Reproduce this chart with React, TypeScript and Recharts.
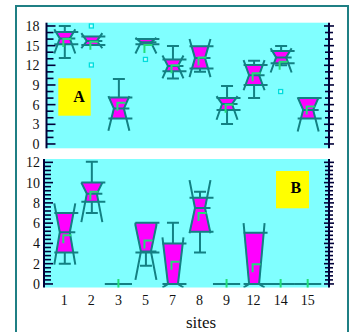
import React from "react";
import { ComposedChart, Bar, Scatter, XAxis, YAxis, CartesianGrid } from "recharts";

const sites = ["1", "2", "3", "5", "7", "8", "9", "12", "14", "15"];

// Panel A values
const aWhiskerLow = [13.1, 15.1, 3.9, 15.2, 10.0, 11.0, 3.05, 7.0, 12.0, 3.9];
const aNotchLow = [13.8, 14.6, 2.0, 13.8, 10.0, 10.2, 3.7, 8.2, 10.9, 1.9];
const aQ1 = [15.2, 15.1, 3.9, 15.2, 11.1, 11.5, 5.2, 9.0, 12.3, 3.9];
const aMedian = [16.1, 15.7, 5.4, 15.5, 11.9, 13.1, 6.1, 10.5, 13.2, 5.2];
const aQ3 = [17.1, 16.4, 7.1, 16.0, 12.9, 14.9, 7.0, 12.05, 14.2, 7.0];
const aNotchHigh = [17.5, 16.9, 7.3, 16.2, 13.5, 16.0, 7.3, 12.8, 14.6, 7.1];
const aWhiskerHigh = [18.0, 16.4, 9.9, 16.0, 14.95, 14.9, 8.85, 12.7, 14.95, 7.0];
const aMean = [16.0, 15.6, 6.3, 15.1, 12.0, 13.2, 6.0, 10.8, 12.55, 5.7];
const aOutlier1 = [null, 18.0, null, 12.9, null, null, null, null, 8.0, null];
const aOutlier2 = [null, 12.05, null, null, null, null, null, null, null, null];

// Panel B values
const bWhiskerLow = [2.0, 7.0, 0, 1.8, 0, 3.1, 0, 0, 0, 0];
const bNotchLow = [1.9, 6.1, 0, 0.4, -0.35, 5.0, 0, -0.35, 0, 0];
const bQ1 = [3.1, 8.1, 0, 3.1, 0, 5.15, 0, 0, 0, 0];
const bMedian = [5.1, 8.9, 0, 3.2, 0, 7.5, 0, 0, 0, 0];
const bQ3 = [7.0, 10.0, 0, 6.05, 4.0, 8.5, 0, 5.05, 0, 0];
const bNotchHigh = [7.95, 10.0, 0, 5.8, 4.6, 10.25, 0, 6.0, 0, 0];
const bWhiskerHigh = [7.0, 12.05, 0, 6.05, 6.05, 9.1, 0, 5.05, 0, 0];
const bMean = [4.8, 9.1, 0, 4.3, 2.2, 7.0, 0, 1.95, 0, 0];
const bOutlier1 = [null, null, null, null, null, null, null, null, null, null];
const bOutlier2 = [null, null, null, null, null, null, null, null, null, null];

const aTicks = Array.from({ length: 19 }, (_, i) => i);
const aGrid = [0, 3, 6, 9, 12, 15, 18];
const bTicks = Array.from({ length: 31 }, (_, i) => Math.round(i * 4) / 10);
const bGrid = [0, 2, 4, 6, 8, 10, 12];

const TEAL = "#138083";
const MAGENTA = "#ff00ff";
const GREEN = "#22dd77";
const CYAN_BG = "#80ffff";
const AXIS = "#000038";
const GRID = "#8e8e8e";
const HW = 10.5;
const NW = 5;

function buildRows(wLo: number[], nLo: number[], q1: number[], med: number[], q3: number[], nHi: number[], wHi: number[], mean: number[], o1: (number | null)[], o2: (number | null)[]) {
  return sites.map((site, i) => {
    const vals = [wLo[i], nLo[i], q1[i], med[i], q3[i], nHi[i], wHi[i]];
    const lo = Math.min(...vals);
    const hi = Math.max(...vals);
    const flat = hi === lo;
    return {
      site,
      wLo: wLo[i], nLo: nLo[i], q1: q1[i], med: med[i], q3: q3[i], nHi: nHi[i], wHi: wHi[i],
      mean: mean[i],
      out1: o1[i],
      out2: o2[i],
      flat,
      span: flat ? null : [lo, hi],
    };
  });
}

const rowsA = buildRows(aWhiskerLow, aNotchLow, aQ1, aMedian, aQ3, aNotchHigh, aWhiskerHigh, aMean, aOutlier1, aOutlier2);
const rowsB = buildRows(bWhiskerLow, bNotchLow, bQ1, bMedian, bQ3, bNotchHigh, bWhiskerHigh, bMean, bOutlier1, bOutlier2);

const BoxShape = (props: any) => {
  const { x, y, width, height, payload } = props;
  if (!payload || payload.flat || !payload.span) return <g />;
  const [lo, hi] = payload.span;
  const top = Math.min(y, y + height);
  const bot = Math.max(y, y + height);
  const py = (v: number) => bot - ((v - lo) / (hi - lo)) * (bot - top);
  const cx = x + width / 2;
  const { wLo, nLo, q1, med, q3, nHi, wHi } = payload;
  const hw = (v: number) => {
    if (v >= med) {
      if (nHi <= med) return HW;
      const t = Math.min(1, (v - med) / (nHi - med));
      return NW + (HW - NW) * t;
    }
    if (nLo >= med) return HW;
    const t = Math.min(1, (med - v) / (med - nLo));
    return NW + (HW - NW) * t;
  };
  const levels = Array.from(new Set([q3, nHi, med, nLo, q1].filter((v) => v <= q3 && v >= q1))).sort((a, b) => b - a);
  const left = levels.map((v) => `${cx - hw(v)},${py(v)}`);
  const right = levels.slice().reverse().map((v) => `${cx + hw(v)},${py(v)}`);
  const fillPts = [...left, ...right].join(" ");
  const side = (s: number) => {
    const pts: [number, number][] = [];
    if (nHi < q3) {
      pts.push([HW, q3]);
      pts.push([HW, nHi]);
    } else pts.push([HW, nHi]);
    pts.push([NW, med]);
    if (nLo > q1) {
      pts.push([HW, nLo]);
      pts.push([HW, q1]);
    } else pts.push([HW, nLo]);
    return pts.map(([w, v]) => `${cx + s * w},${py(v)}`).join(" ");
  };
  return (
    <g>
      <polygon points={fillPts} fill={MAGENTA} stroke="#8040c0" strokeWidth={0.6} />
      {wHi > q3 && <line x1={cx} x2={cx} y1={py(q3)} y2={py(wHi)} stroke={TEAL} strokeWidth={2} />}
      {wHi > q3 && <line x1={cx - 6} x2={cx + 6} y1={py(wHi)} y2={py(wHi)} stroke={TEAL} strokeWidth={2} />}
      {wLo < q1 && <line x1={cx} x2={cx} y1={py(q1)} y2={py(wLo)} stroke={TEAL} strokeWidth={2} />}
      {wLo < q1 && <line x1={cx - 6} x2={cx + 6} y1={py(wLo)} y2={py(wLo)} stroke={TEAL} strokeWidth={2} />}
      <polyline points={side(-1)} fill="none" stroke={TEAL} strokeWidth={2} />
      <polyline points={side(1)} fill="none" stroke={TEAL} strokeWidth={2} />
      <line x1={cx - HW} x2={cx + HW + 3} y1={py(q3)} y2={py(q3)} stroke={TEAL} strokeWidth={2} />
      <line x1={cx - HW} x2={cx + HW + 3} y1={py(q1)} y2={py(q1)} stroke={TEAL} strokeWidth={2} />
      <line x1={cx - NW} x2={cx + HW} y1={py(med)} y2={py(med)} stroke={TEAL} strokeWidth={2} />
    </g>
  );
};

const MeanShape = (props: any) => {
  const { cx, cy, payload } = props;
  if (!payload || cx == null || cy == null || isNaN(cy)) return <g />;
  if (payload.flat) {
    return (
      <g>
        <line x1={cx - 13.6} x2={cx + 13.6} y1={cy} y2={cy} stroke={TEAL} strokeWidth={2} />
        <line x1={cx} x2={cx} y1={cy - 5} y2={cy + 5} stroke={GREEN} strokeWidth={2} />
      </g>
    );
  }
  return <path d={`M${cx - 1},${cy + 8} L${cx - 1},${cy} L${cx + 7},${cy}`} fill="none" stroke={GREEN} strokeWidth={2} />;
};

const makeOutlier = (key: string) => (props: any) => {
  const { cx, cy, payload } = props;
  if (!payload || payload[key] == null || cy == null || isNaN(cy)) return <g />;
  return <rect x={cx - 2} y={cy - 2} width={4} height={4} fill="#c0ffff" stroke="#00dddd" strokeWidth={1.3} />;
};

const isMajor = (v: number, step: number) => Math.abs(v / step - Math.round(v / step)) < 1e-6;

const leftTick = (step: number, gap: number) => (props: any) => {
  const { x, y, payload } = props;
  const v = payload.value;
  const major = isMajor(v, step);
  return (
    <g>
      <line x1={x} x2={x + (major ? 9 : 7)} y1={y} y2={y} stroke={AXIS} strokeWidth={1.6} />
      {major && (
        <text x={x - gap} y={y} dy="0.35em" textAnchor="end" fontFamily="'Liberation Serif', serif" fontSize={14} fill="#111">
          {v}
        </text>
      )}
    </g>
  );
};

const rightTick = (step: number) => (props: any) => {
  const { x, y, payload } = props;
  const major = isMajor(payload.value, step);
  const l = major ? 5 : 4;
  return <line x1={x - l} x2={x + l} y1={y} y2={y} stroke={AXIS} strokeWidth={1.6} />;
};

function Panel({ rows, width, height, marginTop, marginBottom, leftW, padLeft, domain, ticks, grid, step, gap, showX }: any) {
  return (
    <ComposedChart width={width} height={height} data={rows} margin={{ top: marginTop, right: 0, bottom: marginBottom, left: 0 }}>
      <CartesianGrid fill={CYAN_BG} vertical={false} horizontalValues={grid} stroke={GRID} strokeWidth={1.8} />
      <XAxis
        dataKey="site"
        type="category"
        padding={{ left: padLeft, right: 7.8 }}
        hide={!showX}
        height={showX ? 44.5 : 0}
        axisLine={false}
        tickLine={false}
        interval={0}
        tick={{ fontFamily: "'Liberation Serif', serif", fontSize: 14, fill: "#111" }}
      />
      <YAxis
        yAxisId="l"
        width={leftW}
        domain={domain}
        allowDataOverflow
        ticks={ticks}
        interval={0}
        tickSize={0}
        tickMargin={0}
        tickLine={false}
        axisLine={{ stroke: AXIS, strokeWidth: 2 }}
        tick={leftTick(step, gap)}
      />
      <YAxis
        yAxisId="r"
        orientation="right"
        width={27}
        domain={domain}
        allowDataOverflow
        ticks={ticks}
        interval={0}
        tickSize={0}
        tickMargin={0}
        tickLine={false}
        axisLine={{ stroke: AXIS, strokeWidth: 2 }}
        tick={rightTick(step)}
      />
      <Bar yAxisId="l" dataKey="span" barSize={20} shape={BoxShape} isAnimationActive={false} />
      <Scatter yAxisId="l" dataKey="mean" shape={MeanShape} isAnimationActive={false} />
      <Scatter yAxisId="l" dataKey="out1" shape={makeOutlier("out1")} isAnimationActive={false} />
      <Scatter yAxisId="l" dataKey="out2" shape={makeOutlier("out2")} isAnimationActive={false} />
      <Scatter yAxisId="r" dataKey="mean" shape={() => <g />} isAnimationActive={false} />
    </ComposedChart>
  );
}

export default function App() {
  return (
    <div style={{ position: "absolute", left: 0, top: 0, width: 356, height: 332, overflow: "hidden", background: "#fff" }}>
      <div
        style={{
          position: "absolute",
          left: 15,
          top: 5,
          width: 333.5,
          height: 400,
          border: "2.4px solid #1f7f84",
          boxSizing: "border-box",
        }}
      />
      <div style={{ position: "absolute", left: 0, top: 0 }}>
        <Panel
          rows={rowsA}
          width={356}
          height={160}
          marginTop={22.7}
          marginBottom={11.7}
          leftW={46.5}
          padLeft={4.3}
          domain={[-0.66, 18.5]}
          ticks={aTicks}
          grid={aGrid}
          step={3}
          gap={7}
          showX={false}
        />
      </div>
      <div style={{ position: "absolute", left: 0, top: 150 }}>
        <Panel
          rows={rowsB}
          width={356}
          height={182}
          marginTop={9}
          marginBottom={0}
          leftW={44}
          padLeft={6.8}
          domain={[-0.35, 12.33]}
          ticks={bTicks}
          grid={bGrid}
          step={2}
          gap={4}
          showX={true}
        />
      </div>
      <svg width={356} height={332} style={{ position: "absolute", left: 0, top: 0, pointerEvents: "none" }}>
        <rect x={58.3} y={78.3} width={32.4} height={37.4} fill="#ffff00" />
        <text x={79} y={101.7} textAnchor="middle" fontFamily="'Liberation Serif', serif" fontWeight="bold" fontSize={16} fill="#000">
          A
        </text>
        <rect x={276} y={171} width={33} height={37.3} fill="#ffff00" />
        <text x={295.8} y={193.3} textAnchor="middle" fontFamily="'Liberation Serif', serif" fontWeight="bold" fontSize={16} fill="#000">
          B
        </text>
        <text x={201} y={327.5} textAnchor="middle" fontFamily="'Liberation Serif', serif" fontSize={17} fill="#111">
          sites
        </text>
      </svg>
    </div>
  );
}
